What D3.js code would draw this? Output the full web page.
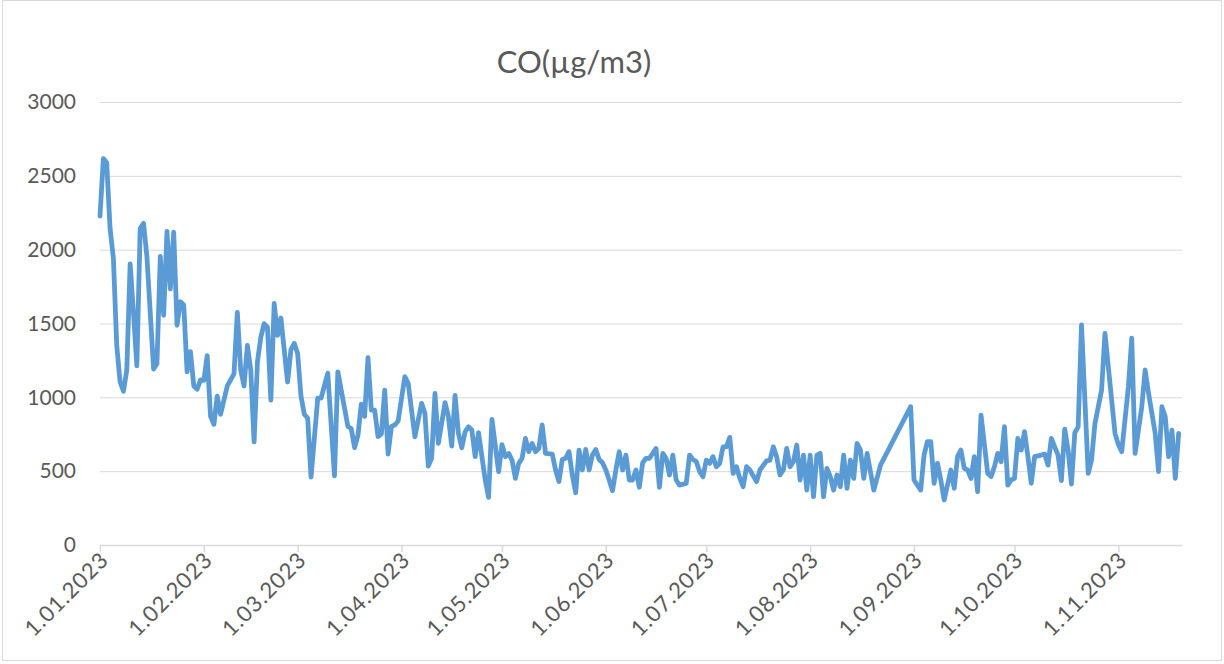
<!DOCTYPE html>
<html>
<head>
<meta charset="utf-8">
<script src="https://cdn.jsdelivr.net/npm/d3@7"></script>
<style>
  body { margin: 0; background: #fff; }
  text { font-family: Lato, "Open Sans", sans-serif; fill: #595959; }
</style>
</head>
<body>
<div id="chart"></div>
<script>
// day offsets from 1 Jan 2023 and CO readings (µg/m3)
var dayOfYear = [
  0, 1, 2, 3, 4, 5, 6, 7, 8, 9, 10, 11, 12, 13, 14, 16, 17, 18, 19, 20,
  21, 22, 23, 24, 25, 26, 27, 28, 29, 30, 31, 32, 33, 34, 35, 36, 38, 40, 41, 42,
  43, 44, 45, 46, 47, 48, 49, 50, 51, 52, 53, 54, 56, 57, 58, 59, 60, 61, 62, 63,
  65, 66, 68, 70, 71, 73, 74, 75, 76, 77, 78, 79, 80, 81, 82, 83, 84, 85, 86, 87,
  88, 89, 91, 92, 94, 96, 97, 98, 99, 100, 101, 103, 104, 105, 106, 107, 108, 109, 110, 111,
  112, 113, 115, 116, 117, 119, 120, 121, 122, 123, 124, 125, 126, 127, 128, 129, 130, 131, 132, 133,
  135, 136, 137, 138, 139, 140, 141, 142, 143, 144, 145, 146, 147, 148, 149, 150, 151, 152, 153, 154,
  155, 156, 157, 158, 159, 160, 161, 162, 163, 164, 165, 166, 167, 168, 169, 170, 171, 172, 173, 175,
  176, 177, 178, 179, 180, 181, 182, 183, 184, 185, 186, 187, 188, 189, 190, 191, 192, 193, 194, 196,
  197, 199, 200, 201, 202, 203, 204, 205, 206, 207, 208, 209, 210, 211, 212, 213, 214, 215, 216, 217,
  218, 219, 220, 221, 222, 223, 224, 225, 226, 227, 228, 229, 231, 233, 242, 243, 245, 246, 247, 248,
  249, 250, 251, 252, 254, 255, 256, 257, 258, 259, 260, 261, 262, 263, 265, 266, 267, 268, 269, 270,
  271, 272, 273, 274, 275, 276, 277, 278, 279, 281, 282, 283, 284, 285, 286, 287, 288, 289, 290, 291,
  292, 293, 295, 296, 297, 299, 300, 303, 304, 305, 307, 308, 309, 311, 312, 313, 315, 316, 317, 318,
  319, 320, 321, 322
];
var coValues = [
  2228, 2617, 2590, 2145, 1940, 1351, 1104, 1041, 1186, 1904, 1570, 1214, 2145, 2178, 1954, 1192, 1228, 1954, 1556, 2124,
  1734, 2118, 1488, 1647, 1625, 1173, 1310, 1077, 1055, 1118, 1115, 1282, 871, 817, 1008, 885, 1077, 1159, 1575, 1186,
  1077, 1351, 1186, 699, 1241, 1406, 1499, 1474, 981, 1636, 1419, 1537, 1104, 1323, 1365, 1296, 1008, 885, 858, 460,
  994, 994, 1164, 469, 1173, 926, 803, 789, 660, 742, 954, 871, 1269, 913, 913, 734, 753, 1049, 616, 803,
  813, 840, 1140, 1095, 733, 959, 892, 535, 587, 1027, 688, 964, 869, 670, 1013, 756, 659, 767, 801, 779,
  598, 761, 440, 323, 851, 497, 680, 598, 620, 575, 451, 553, 587, 722, 632, 688, 632, 654, 813, 620,
  616, 508, 429, 579, 587, 632, 474, 354, 643, 508, 647, 508, 609, 647, 579, 557, 508, 440, 368, 508,
  632, 508, 609, 440, 440, 508, 391, 557, 587, 587, 620, 654, 391, 620, 587, 474, 609, 440, 406, 417,
  609, 579, 565, 497, 462, 575, 553, 598, 530, 553, 665, 665, 729, 485, 530, 451, 395, 530, 508, 429,
  508, 570, 575, 665, 598, 474, 508, 654, 530, 564, 677, 440, 609, 372, 609, 327, 609, 620, 327, 519,
  463, 372, 474, 395, 609, 384, 575, 451, 688, 643, 451, 620, 372, 541, 937, 440, 372, 609, 700, 700,
  418, 553, 440, 305, 508, 384, 598, 643, 519, 508, 451, 598, 361, 880, 485, 463, 530, 620, 564, 801,
  406, 440, 451, 722, 643, 768, 598, 418, 598, 609, 616, 541, 722, 665, 609, 436, 785, 643, 413, 760,
  800, 1490, 485, 576, 821, 1050, 1433, 756, 680, 632, 1072, 1400, 620, 937, 1185, 1030, 756, 497, 937, 869,
  598, 778, 451, 756
];
var yTicks = [0, 500, 1000, 1500, 2000, 2500, 3000];
var monthTicks = ["2023-01-01", "2023-02-01", "2023-03-01", "2023-04-01", "2023-05-01", "2023-06-01",
  "2023-07-01", "2023-08-01", "2023-09-01", "2023-10-01", "2023-11-01"];

var startDay = new Date(2023, 0, 1);
var parseDay = d3.timeParse("%Y-%m-%d");
var formatTick = d3.timeFormat("%-d.%m.%Y");

var data = dayOfYear.map(function (d, i) {
  return { date: d3.timeDay.offset(startDay, d), value: coValues[i] };
});

var width = 1224, height = 664;
var margin = {top: 102, right: 42, bottom: 119, left: 100};

var svg = d3.select("#chart").append("svg")
  .attr("width", width)
  .attr("height", height);

svg.append("rect")
  .attr("x", 2.5).attr("y", 0.5)
  .attr("width", width - 5).attr("height", height - 4)
  .attr("fill", "#fff")
  .attr("stroke", "#d9d9d9");

var xScale = d3.scaleTime()
  .domain([startDay, d3.timeDay.offset(startDay, 323)])
  .range([margin.left, width - margin.right]);

var yScale = d3.scaleLinear()
  .domain([0, 3000])
  .range([height - margin.bottom, margin.top]);

// gridlines
svg.append("g")
  .selectAll("line")
  .data(yTicks.filter(function (t) { return t > 0; }))
  .enter().append("line")
  .attr("x1", margin.left).attr("x2", width - margin.right)
  .attr("y1", function (d) { return yScale(d) + 0.5; })
  .attr("y2", function (d) { return yScale(d) + 0.5; })
  .attr("stroke", "#d9d9d9")
  .attr("stroke-width", 1);

// y axis labels
var yAxis = svg.append("g")
  .attr("transform", "translate(" + margin.left + ",0)")
  .call(d3.axisLeft(yScale).tickValues(yTicks).tickFormat(d3.format("d")).tickSize(0).tickPadding(24));
yAxis.select(".domain").remove();
yAxis.selectAll("text")
  .attr("font-size", 21)
  .attr("font-family", "Lato, sans-serif")
  .attr("fill", "#595959");

// x axis
var xAxis = svg.append("g")
  .attr("transform", "translate(0," + (height - margin.bottom) + ")")
  .call(d3.axisBottom(xScale)
    .tickValues(monthTicks.map(parseDay))
    .tickFormat(formatTick)
    .tickSize(7)
    .tickSizeOuter(0));
xAxis.select(".domain").attr("stroke", "#d9d9d9").attr("stroke-width", 1.5);
xAxis.selectAll(".tick line").attr("stroke", "#d9d9d9").attr("stroke-width", 1.5);
xAxis.selectAll("text")
  .attr("font-size", 22)
  .attr("letter-spacing", 0.9)
  .attr("font-family", "Lato, sans-serif")
  .attr("fill", "#595959")
  .attr("text-anchor", "end")
  .attr("x", 0).attr("y", 0)
  .attr("dy", "0.35em")
  .attr("transform", "translate(4,11) rotate(-45)");

var line = d3.line()
  .x(function (d) { return xScale(d.date); })
  .y(function (d) { return yScale(d.value); });

svg.append("path")
  .datum(data)
  .attr("d", line)
  .attr("fill", "none")
  .attr("stroke", "#5b9bd5")
  .attr("stroke-width", 4.8)
  .attr("stroke-linejoin", "round")
  .attr("stroke-linecap", "round");

svg.append("text")
  .attr("x", 574)
  .attr("y", 73)
  .attr("text-anchor", "middle")
  .attr("font-size", 31)
  .attr("font-family", "Lato, sans-serif")
  .attr("fill", "#595959")
  .text("CO(µg/m3)");
</script>
</body>
</html>
